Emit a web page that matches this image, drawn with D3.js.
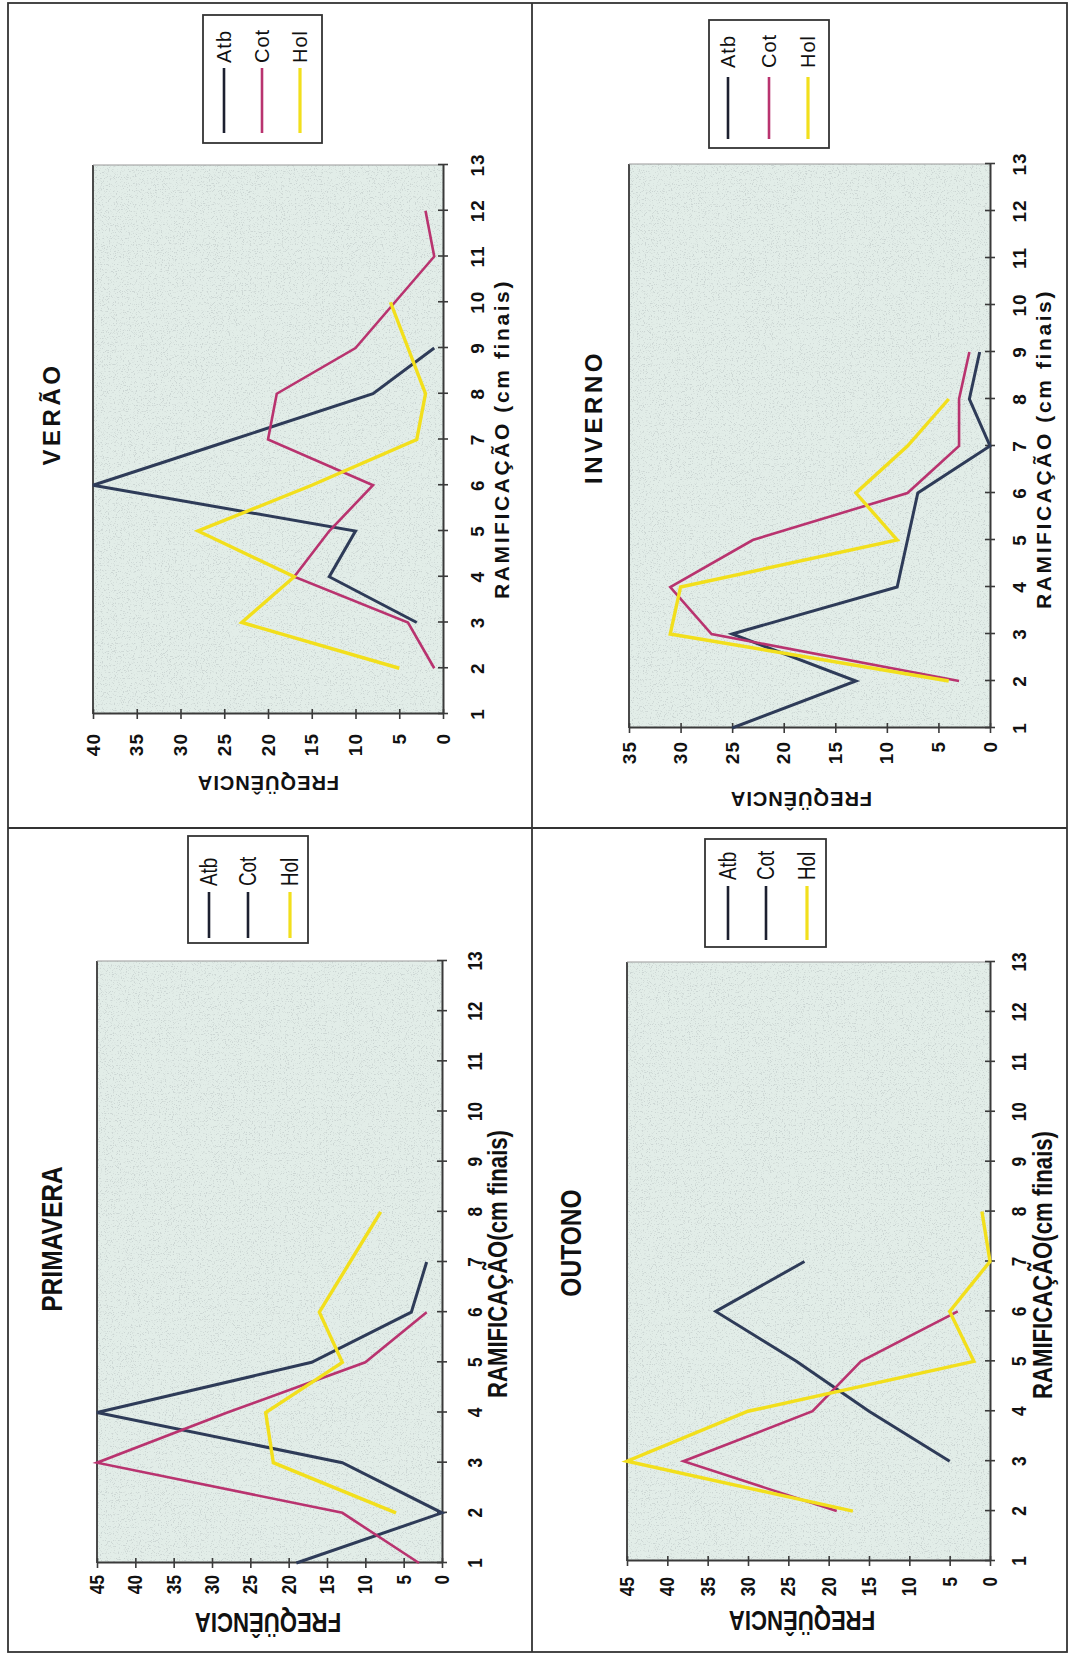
<!DOCTYPE html>
<html><head><meta charset="utf-8">
<script src="https://cdn.jsdelivr.net/npm/d3@7"></script>
<style>
html,body{margin:0;padding:0;background:#fff;}
svg{display:block;}
</style></head>
<body>
<script>
// ---------------- DATA ----------------
const categories = [1,2,3,4,5,6,7,8,9,10,11,12,13];
const seriesNames = ["Atb","Cot","Hol"];
const xTitle = "RAMIFICAÇÃO (cm finais)";
const yTitle = "FREQÜÊNCIA";

// VERÃO (values for categories 1..13, null = no point)
const veraoAtb = [null, null, 3, 13, 10, 40, 24, 8, 1, null, null, null, null];
const veraoCot = [null, 1, 4, 17, 13, 8, 20, 19, 10, 5.5, 1, 2, null];
const veraoHol = [null, 5, 23, 17, 28, 15, 3, 2, 4, 6, null, null, null];
const veraoTicks = [0,5,10,15,20,25,30,35,40];

// INVERNO
const invernoAtb = [25, 13, 25, 9, 8, 7, 0, 2, 1, null, null, null, null];
const invernoCot = [null, 3, 27, 31, 23, 8, 3, 3, 2, null, null, null, null];
const invernoHol = [null, 4, 31, 30, 9, 13, 8, 4, null, null, null, null, null];
const invernoTicks = [0,5,10,15,20,25,30,35];

// PRIMAVERA
const primaveraAtb = [19, 0, 13, 45, 17, 4, 2, null, null, null, null, null, null];
const primaveraCot = [3, 13, 45, 28, 10, 2, null, null, null, null, null, null, null];
const primaveraHol = [null, 6, 22, 23, 13, 16, 12, 8, null, null, null, null, null];
const primaveraTicks = [0,5,10,15,20,25,30,35,40,45];

// OUTONO
const outonoAtb = [null, null, 5, 15, 24, 34, 23, null, null, null, null, null, null];
const outonoCot = [null, 19, 38, 22, 16, 4, null, null, null, null, null, null, null];
const outonoHol = [null, 17, 45, 30, 2, 5, 0, 1, null, null, null, null, null];
const outonoTicks = [0,5,10,15,20,25,30,35,40,45];

// ---------------- STYLE / LAYOUT ----------------
const lineColors = {Atb:"#2e3b58", Cot:"#b9336f", Hol:"#f2df1c"};
const lineWidths = {Atb:3, Cot:2.6, Hol:3.4};
const baseFont = "'Liberation Sans', Arial, sans-serif";

const styles = {
  wide:   { sx:1,    tick:19, tickLS:1, title:24, titleLS:3.5, xt:21, xtLS:2.6, yt:20, ytLS:1, leg:20, legLS:1, tickW:"bold", legW:"normal" },
  narrow: { sx:0.82, tick:21, tickLS:0, title:30, titleLS:0,   xt:27, xtLS:0,   yt:27, ytLS:0, leg:23, legLS:0, tickW:"bold", legW:"normal" }
};
const narrowXTitle = xTitle.replace(" (", "(");

const panels = [
  { title:"VERÃO", series:[veraoAtb, veraoCot, veraoHol], ticks:veraoTicks, yMax:40,
    x0:93, x1:443, yB:714, yT:165, catLabelX:477, xTitleX:501, xTitleY:439,
    valLabelTop:733, yTitlePos:[268,783], titlePos:[51,414],
    legend:{x:203,y:15,w:119,h:128, itemsX:[224,262,300], lineY:[133,68], textY:63},
    legendColors:["#1c2030","#b9336f","#f2df1c"], style:"wide", xt:xTitle },
  { title:"INVERNO", series:[invernoAtb, invernoCot, invernoHol], ticks:invernoTicks, yMax:35,
    x0:629, x1:990, yB:728, yT:164, catLabelX:1019, xTitleX:1043, xTitleY:449,
    valLabelTop:741, yTitlePos:[801,799], titlePos:[593,417],
    legend:{x:709,y:20,w:120,h:128, itemsX:[728,769,808], lineY:[139,77], textY:68},
    legendColors:["#1c2030","#b9336f","#f2df1c"], style:"wide", xt:xTitle },
  { title:"PRIMAVERA", series:[primaveraAtb, primaveraCot, primaveraHol], ticks:primaveraTicks, yMax:45,
    x0:97, x1:442, yB:1563, yT:961, catLabelX:475, xTitleX:498, xTitleY:1264,
    valLabelTop:1575, yTitlePos:[268,1622], titlePos:[52,1239],
    legend:{x:188,y:836,w:120,h:107, itemsX:[209,248,290], lineY:[938,892], textY:886},
    legendColors:["#1c2030","#1c2030","#f2df1c"], style:"narrow", xt:narrowXTitle },
  { title:"OUTONO", series:[outonoAtb, outonoCot, outonoHol], ticks:outonoTicks, yMax:45,
    x0:627, x1:990, yB:1561, yT:962, catLabelX:1019, xTitleX:1043, xTitleY:1265,
    valLabelTop:1577, yTitlePos:[802,1620], titlePos:[571,1243],
    legend:{x:705,y:839,w:121,h:108, itemsX:[728,766,807], lineY:[940,886], textY:880},
    legendColors:["#1c2030","#1c2030","#f2df1c"], style:"narrow", xt:narrowXTitle }
];

const W = 1073, H = 1656;
const svg = d3.select("body").append("svg").attr("width", W).attr("height", H);

// grain filter for plot background
const defs = svg.append("defs");
const f = defs.append("filter").attr("id","grain").attr("x",0).attr("y",0).attr("width","100%").attr("height","100%");
f.append("feTurbulence").attr("type","fractalNoise").attr("baseFrequency",0.85).attr("numOctaves",2).attr("seed",4).attr("result","n");
f.append("feColorMatrix").attr("in","n").attr("type","matrix")
  .attr("values","0 0 0 0 0.45  0 0 0 0 0.5  0 0 0 0 0.5  7 0 0 0 -4.0").attr("result","dots");
f.append("feComposite").attr("in","dots").attr("in2","SourceGraphic").attr("operator","in");

// outer frame and dividers
svg.append("rect").attr("x",8).attr("y",3).attr("width",1059).attr("height",1649)
  .attr("fill","none").attr("stroke","#333").attr("stroke-width",1.8);
svg.append("line").attr("x1",532).attr("x2",532).attr("y1",3).attr("y2",1652).attr("stroke","#333").attr("stroke-width",1.8);
svg.append("line").attr("x1",8).attr("x2",1067).attr("y1",828).attr("y2",828).attr("stroke","#333").attr("stroke-width",1.8);

// text helper: position in local coords, optional rotation, horizontal condensing
function addText(g, x, y, rot, str, st, size, ls, weight, anchor) {
  g.append("text")
    .attr("transform", `translate(${x},${y}) rotate(${rot}) scale(${st.sx},1)`)
    .attr("text-anchor", anchor).attr("dominant-baseline","central")
    .attr("font-family", baseFont).attr("font-weight", weight)
    .attr("font-size", size).attr("letter-spacing", ls)
    .attr("fill","#111").text(str);
}

panels.forEach(p => {
  const st = styles[p.style];
  const plotLen = p.yB - p.yT;     // local width (categories)
  const plotW = p.x1 - p.x0;       // local height (values)
  const L = (px, py) => [p.yB - py, px - p.x0];   // page -> local

  const g = svg.append("g").attr("transform", `translate(${p.x0},${p.yB}) rotate(-90)`);

  const x = d3.scaleLinear().domain([1,13]).range([0, plotLen]);
  const y = d3.scaleLinear().domain([0, p.yMax]).range([plotW, 0]);

  // plot background
  g.append("rect").attr("x",0).attr("y",0).attr("width",plotLen).attr("height",plotW).attr("fill","#e2ede8");
  g.append("rect").attr("x",0).attr("y",0).attr("width",plotLen).attr("height",plotW)
    .attr("fill","#000").attr("filter","url(#grain)").attr("opacity",0.45);
  g.append("line").attr("x1",0).attr("x2",plotLen).attr("y1",0).attr("y2",0).attr("stroke","#4a4a4a").attr("stroke-width",2);
  g.append("line").attr("x1",plotLen).attr("x2",plotLen).attr("y1",0).attr("y2",plotW).attr("stroke","#9a9a9a").attr("stroke-width",1.2);

  // category axis
  const gx = g.append("g").attr("transform",`translate(0,${plotW})`)
    .call(d3.axisBottom(x).tickValues(categories).tickSize(0).tickFormat(""));
  gx.select(".domain").attr("stroke","#3a3a3a").attr("stroke-width",2);
  gx.selectAll(".tick").append("line").attr("y1",-5).attr("y2",5).attr("stroke","#3a3a3a").attr("stroke-width",1.6);
  const catLY = p.catLabelX - p.x0;
  categories.forEach(c => addText(g, x(c), catLY, 0, c, st, st.tick, st.tickLS, st.tickW, "middle"));

  // value axis
  const gy = g.append("g").call(d3.axisLeft(y).tickValues(p.ticks).tickSize(0).tickFormat(""));
  gy.select(".domain").attr("stroke","#3a3a3a").attr("stroke-width",2);
  gy.selectAll(".tick").append("line").attr("x1",-5).attr("x2",5).attr("stroke","#3a3a3a").attr("stroke-width",1.6);
  const valEnd = L(0, p.valLabelTop)[0];
  p.ticks.forEach(t => addText(g, valEnd, y(t), 0, t, st, st.tick, st.tickLS, st.tickW, "end"));

  // series lines
  const line = d3.line().defined(d => d.v !== null).x(d => x(d.c)).y(d => y(d.v));
  seriesNames.forEach((name, i) => {
    const pts = categories.map((c, j) => ({c, v: p.series[i][j]}));
    g.append("path").datum(pts).attr("d", line)
      .attr("fill","none").attr("stroke", lineColors[name]).attr("stroke-width", lineWidths[name])
      .attr("stroke-linejoin","miter");
  });

  // titles
  const tp = L(p.titlePos[0], p.titlePos[1]);
  addText(g, tp[0], tp[1], 0, p.title, st, st.title, st.titleLS, "bold", "middle");
  const xt = L(p.xTitleX, p.xTitleY);
  addText(g, xt[0], xt[1], 0, p.xt, st, st.xt, st.xtLS, "bold", "middle");
  const yt = L(p.yTitlePos[0], p.yTitlePos[1]);
  addText(g, yt[0], yt[1], -90, yTitle, st, st.yt, st.ytLS, "bold", "middle");

  // legend
  const lg = p.legend;
  const b0 = L(lg.x, lg.y + lg.h);
  g.append("rect").attr("x", b0[0]).attr("y", b0[1]).attr("width", lg.h).attr("height", lg.w)
    .attr("fill","#fff").attr("stroke","#333").attr("stroke-width",1.8);
  seriesNames.forEach((name, i) => {
    const a = L(lg.itemsX[i], lg.lineY[0]);
    const bb = L(lg.itemsX[i], lg.lineY[1]);
    g.append("line").attr("x1",a[0]).attr("x2",bb[0]).attr("y1",a[1]).attr("y2",bb[1])
      .attr("stroke", p.legendColors[i]).attr("stroke-width", i === 2 ? 3.2 : 2.6);
    const t = L(lg.itemsX[i], lg.textY);
    addText(g, t[0], t[1], 0, name, st, st.leg, st.legLS, st.legW, "start");
  });
});
</script>
</body></html>
